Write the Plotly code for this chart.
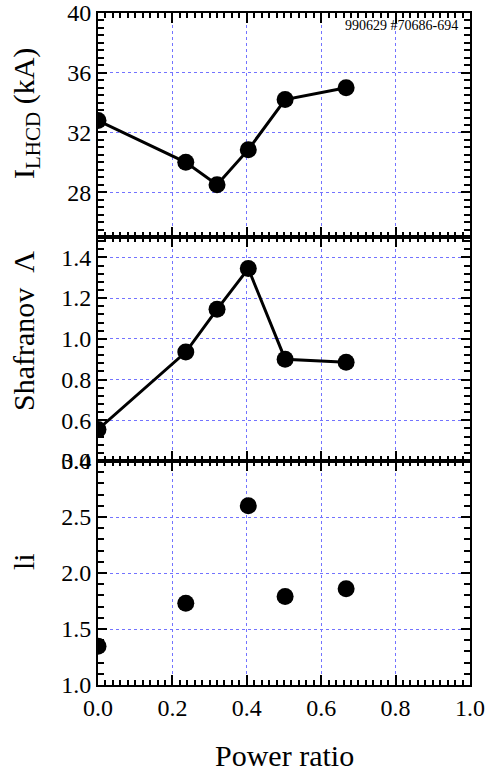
import plotly.graph_objects as go
from plotly.subplots import make_subplots

# Data
power_ratio_6 = [0.0, 0.236, 0.32, 0.404, 0.503, 0.667]
i_lhcd = [32.8, 30.0, 28.5, 30.85, 34.2, 35.0]
shafranov = [0.555, 0.935, 1.145, 1.345, 0.90, 0.885]
power_ratio_li = [0.0, 0.236, 0.404, 0.503, 0.667]
li_vals = [1.345, 1.73, 2.60, 1.79, 1.86]

x_ticks = [0.0, 0.2, 0.4, 0.6, 0.8, 1.0]
top_ticks = [28, 32, 36, 40]
mid_ticks = [0.4, 0.6, 0.8, 1.0, 1.2, 1.4]
bot_ticks = [1.0, 1.5, 2.0, 2.5, 3.0]

FONT = "Liberation Serif, Times New Roman, DejaVu Serif, serif"
GRID = "#7373ff"

fig = make_subplots(rows=3, cols=1, shared_xaxes=True, vertical_spacing=0)

line_style = dict(color="black", width=3)
marker_style = dict(color="black", size=17)

fig.add_trace(go.Scatter(x=power_ratio_6, y=i_lhcd, mode="lines+markers",
                         line=line_style, marker=marker_style), row=1, col=1)
fig.add_trace(go.Scatter(x=power_ratio_6, y=shafranov, mode="lines+markers",
                         line=line_style, marker=marker_style), row=2, col=1)
fig.add_trace(go.Scatter(x=power_ratio_li, y=li_vals, mode="markers",
                         marker=marker_style), row=3, col=1)

common_axis = dict(showline=True, linecolor="black", linewidth=2, mirror="allticks",
                   ticks="inside", tickcolor="black", tickwidth=2, automargin=False,
                   showgrid=True, gridcolor=GRID, griddash="dot", gridwidth=1,
                   zeroline=False, tickfont=dict(family=FONT, size=24, color="black"))

for r in range(1, 4):
    fig.update_xaxes(range=[0, 1.0], tickvals=x_ticks, tickformat=".1f", ticklen=10,
                     minor=dict(dtick=0.02, ticks="inside", ticklen=5, tickcolor="black",
                                tickwidth=1.5, showgrid=False),
                     showticklabels=(r == 3), row=r, col=1, **common_axis)

fig.update_yaxes(range=[25, 40], tickvals=top_ticks, ticklen=9,
                 minor=dict(dtick=0.5, ticks="inside", ticklen=6, tickcolor="black",
                            tickwidth=1.5, showgrid=False),
                 row=1, col=1, **common_axis)
fig.update_yaxes(range=[0.4, 1.5], tickvals=mid_ticks, tickformat=".1f", ticklen=9,
                 minor=dict(dtick=0.04, ticks="inside", ticklen=6, tickcolor="black",
                            tickwidth=1.5, showgrid=False),
                 row=2, col=1, **common_axis)
fig.update_yaxes(range=[1.0, 3.0], tickvals=bot_ticks, tickformat=".1f", ticklen=9,
                 minor=dict(dtick=0.1, ticks="inside", ticklen=6, tickcolor="black",
                            tickwidth=1.5, showgrid=False),
                 row=3, col=1, **common_axis)

L, R, T, B = 98, 15, 13, 89
W, H = 485, 774
pw, ph = W - L - R, H - T - B

def px(xp):
    return (xp - L) / pw

def py(yp):
    return (H - B - yp) / ph

title_font = dict(family=FONT, size=30, color="black")
annotations = [
    dict(text="I<sub>LHCD</sub> (kA)", x=px(26), y=py(114), textangle=-90),
    dict(text="Shafranov  Λ", x=px(23), y=py(331), textangle=-90),
    dict(text="li", x=px(23), y=py(562), textangle=-90),
    dict(text="Power ratio", x=px(284), y=py(755), textangle=0),
]
for a in annotations:
    fig.add_annotation(xref="paper", yref="paper", showarrow=False,
                       xanchor="center", yanchor="middle", font=title_font, **a)

fig.add_annotation(text="990629 #70686-694", xref="paper", yref="paper",
                   x=px(460), y=py(25), xanchor="right", yanchor="middle",
                   showarrow=False, font=dict(family=FONT, size=14, color="black"))

fig.update_layout(width=W, height=H, margin=dict(l=L, r=R, t=T, b=B, autoexpand=False),
                  paper_bgcolor="white", plot_bgcolor="white", showlegend=False,
                  font=dict(family=FONT))

fig.write_html("out.html", config={"displayModeBar": False},
               post_script="document.body.style.margin='0';document.body.style.padding='0';")
